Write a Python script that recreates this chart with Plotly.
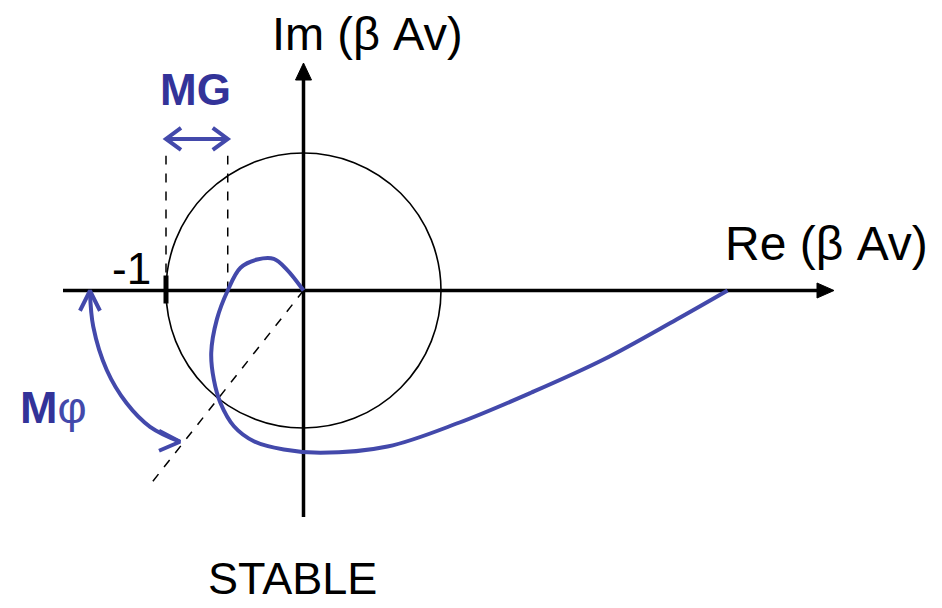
import plotly.graph_objects as go

W, H = 942, 608
S = 137.5            # pixels per unit of beta*Av
OX, OY = 303.5, 290.5  # position of the origin on the page (px)

BLUE = "#4349AB"
DARK_BLUE = "#333399"
FONT = "Liberation Sans, Arial, sans-serif"

# Nyquist locus of beta*Av
nyq_re = [0.0, -0.121, -0.216, -0.337, -0.458, -0.551, -0.630, -0.671, -0.652,
          -0.604, -0.506, -0.361, -0.143, 0.124, 0.611, 1.135, 1.658, 2.182,
          2.713, 3.084]
nyq_im = [0.0, 0.152, 0.230, 0.225, 0.165, 0.0, -0.210, -0.453, -0.649,
          -0.818, -0.987, -1.096, -1.156, -1.180, -1.135, -0.960, -0.742,
          -0.502, -0.211, 0.0]

# gain-margin crossing of the negative real axis, critical point
gm_cross = -0.551
critical = -1.0

# phase-margin point where the locus meets the unit circle
pm_point = (-0.620, -0.785)
pm_ray_len = 1.79

# phase-margin arc (Re, Im) between the real axis and the PM ray
pm_arc_re = [-1.553, -1.529, -1.431, -1.286, -1.116, -0.898]
pm_arc_im = [-0.009, -0.263, -0.578, -0.820, -0.991, -1.100]

# MG double arrow height (Im units)
mg_level = 1.102
dash_top = 0.98


def d(px):
    """pixel length -> data length"""
    return px / S


def pos(x, y):
    """page pixel -> data coordinates"""
    return (x - OX) / S, (OY - y) / S


fig = go.Figure()

# unit circle
shapes = [dict(type="circle", xref="x", yref="y", x0=-1, y0=-1, x1=1, y1=1,
               line=dict(color="black", width=1.6), layer="below")]

# real axis with arrow
xl, _ = pos(63, 0)
xb, _ = pos(817, 0)
xt, _ = pos(834, 0)
shapes.append(dict(type="line", xref="x", yref="y", x0=xl, y0=0, x1=xb, y1=0,
                   line=dict(color="black", width=3.5), layer="below"))
shapes.append(dict(type="path", xref="x", yref="y",
                   path=f"M {xb},{d(7.5)} L {xt},0 L {xb},{-d(7.5)} Z",
                   fillcolor="black", line=dict(color="black", width=1)))

# imaginary axis with arrow
_, yb = pos(0, 517)
_, yab = pos(0, 80)
_, yat = pos(0, 63)
shapes.append(dict(type="line", xref="x", yref="y", x0=0, y0=yb, x1=0, y1=yab,
                   line=dict(color="black", width=3.5), layer="below"))
shapes.append(dict(type="path", xref="x", yref="y",
                   path=f"M {-d(8)},{yab} L 0,{yat} L {d(8)},{yab} Z",
                   fillcolor="black", line=dict(color="black", width=1)))

# tick at -1
shapes.append(dict(type="line", xref="x", yref="y", x0=critical, y0=d(15),
                   x1=critical, y1=-d(13), line=dict(color="black", width=5)))

# dashed guides for the gain margin
for xv in (critical, gm_cross):
    shapes.append(dict(type="line", xref="x", yref="y", x0=xv, y0=0, x1=xv,
                       y1=dash_top, line=dict(color="black", width=1.5, dash="dash"),
                       layer="below"))

# dashed ray through the phase-margin point
mag = (pm_point[0] ** 2 + pm_point[1] ** 2) ** 0.5
shapes.append(dict(type="line", xref="x", yref="y", x0=0, y0=0,
                   x1=pm_point[0] / mag * pm_ray_len, y1=pm_point[1] / mag * pm_ray_len,
                   line=dict(color="black", width=1.5, dash="dash"), layer="below"))

# locus
fig.add_trace(go.Scatter(x=nyq_re, y=nyq_im, mode="lines",
                         line=dict(color=BLUE, width=4, shape="spline", smoothing=1.0),
                         hoverinfo="skip", showlegend=False))

# phase-margin arc
fig.add_trace(go.Scatter(x=pm_arc_re, y=pm_arc_im, mode="lines",
                         line=dict(color=BLUE, width=4, shape="spline", smoothing=1.0),
                         hoverinfo="skip", showlegend=False))


def chevron(tx, ty, arms):
    """open arrowhead at (tx, ty); arms given as pixel offsets (dx, dy-down)"""
    (a1x, a1y), (a2x, a2y) = arms
    xs = [tx + d(a1x), tx, tx + d(a2x)]
    ys = [ty - d(a1y), ty, ty - d(a2y)]
    fig.add_trace(go.Scatter(x=xs, y=ys, mode="lines",
                             line=dict(color=BLUE, width=4),
                             hoverinfo="skip", showlegend=False))


chevron(pm_arc_re[0], pm_arc_im[0] + d(1), [(-10, 20), (10, 20)])
chevron(pm_arc_re[-1], pm_arc_im[-1], [(-21, -11), (-21, 9)])

# MG double arrow
fig.add_trace(go.Scatter(x=[critical, gm_cross], y=[mg_level, mg_level], mode="lines",
                         line=dict(color=BLUE, width=4),
                         hoverinfo="skip", showlegend=False))
chevron(critical, mg_level, [(15, -11), (15, 11)])
chevron(gm_cross, mg_level, [(-15, -11), (-15, 11)])

annotations = []


def label(x, y, text, size, color="black", bold=False, pad=1):
    ax, ay = pos(x, y)
    if bold:
        text = f"<b>{text}</b>"
    annotations.append(dict(x=ax, y=ay, xref="x", yref="y", text=text, showarrow=False,
                            xanchor="center", yanchor="middle", borderpad=pad,
                            font=dict(family=FONT, size=size, color=color)))


label(367, 33, "Im (β Av)", 47)
label(826, 243, "Re (β Av)", 48)
label(131, 268, "-1", 44)
label(195, 89, "MG", 44, DARK_BLUE, bold=True)
label(292, 578, "STABLE", 45, pad=0)
annotations.append(dict(x=pos(53, 407)[0], y=pos(53, 407)[1], xref="x", yref="y",
                        text=f"<b>M</b><span style='color:{BLUE}'>φ</span>",
                        showarrow=False, xanchor="center", yanchor="middle",
                        font=dict(family=FONT, size=45, color=DARK_BLUE)))

fig.update_layout(
    width=W, height=H,
    margin=dict(l=0, r=0, t=0, b=0),
    paper_bgcolor="white", plot_bgcolor="white",
    shapes=shapes, annotations=annotations,
    xaxis=dict(range=[-OX / S, (W - OX) / S], visible=False, fixedrange=True),
    yaxis=dict(range=[(OY - H) / S, OY / S], visible=False, fixedrange=True),
    showlegend=False,
)

fig.write_html("out.html")
